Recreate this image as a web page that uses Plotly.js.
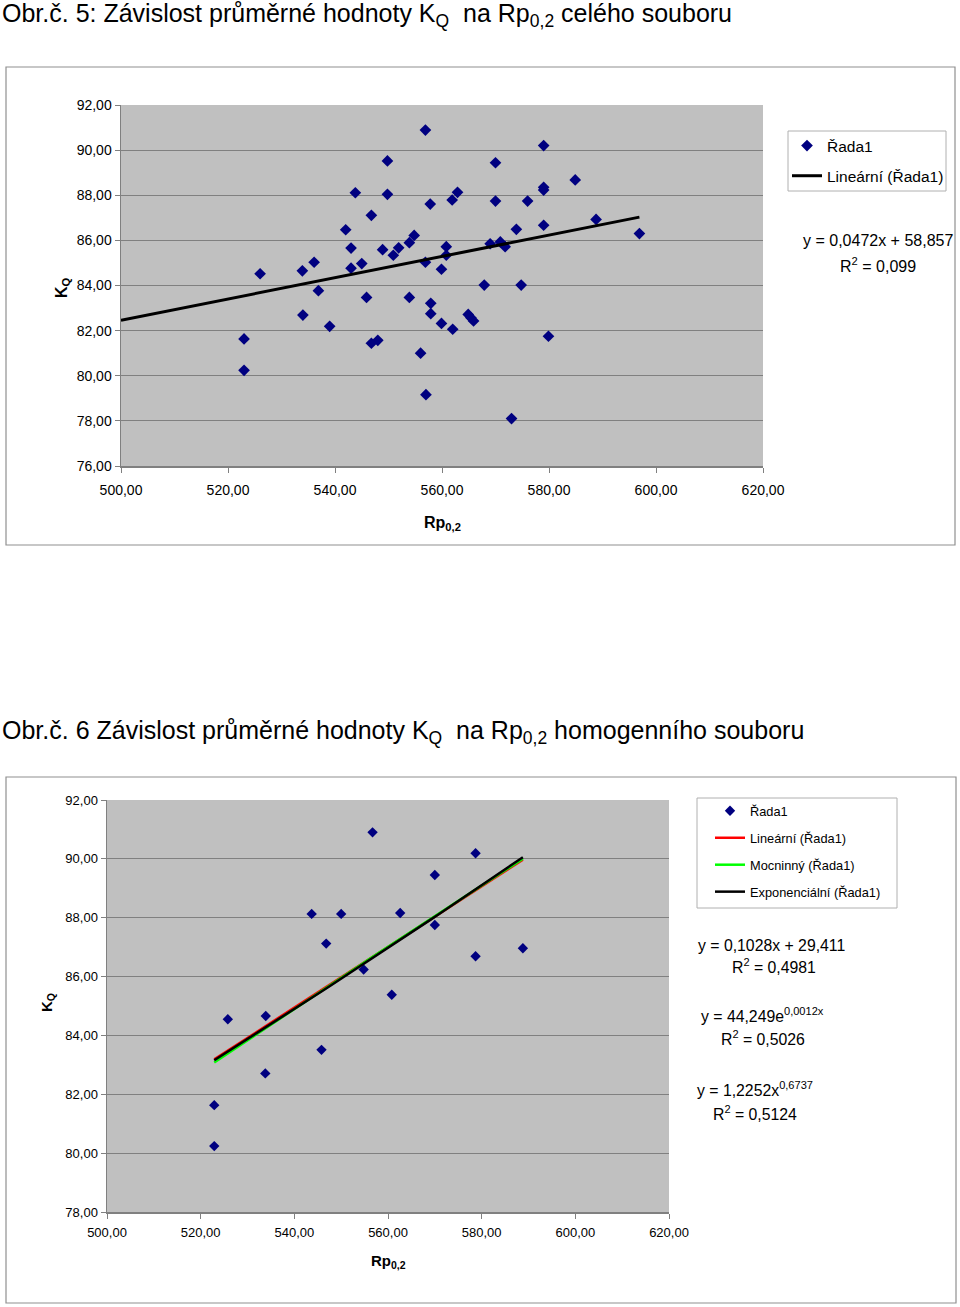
<!DOCTYPE html>
<html><head><meta charset="utf-8">
<script src="https://cdn.plot.ly/plotly-3.0.1.min.js"></script>
<style>body{margin:0;background:#fff}#c{width:960px;height:1307px}</style>
</head><body><div id="c"></div>
<script>
// ---- Data: Obr. 5 (whole set) ----
const rp1 = [523.0,523.0,526.0,533.9,534.0,536.1,536.9,539.0,542.0,543.0,543.0,543.8,545.0,545.9,546.8,546.8,548.0,548.9,549.8,549.8,550.9,551.9,553.9,553.9,554.8,556.0,556.9,556.9,557.0,557.8,557.9,557.9,559.9,559.9,560.8,560.8,561.9,562.0,562.9,564.9,565.4,565.9,567.9,569.0,570.0,570.0,570.9,571.8,573.0,573.9,574.8,576.0,579.0,579.0,579.0,579.0,579.9,584.9,588.8,596.9];
const kq1 = [81.63,80.24,84.52,84.65,82.69,85.03,83.77,82.19,86.47,85.66,84.77,88.11,84.97,83.47,87.11,81.44,81.57,85.59,89.52,88.04,85.34,85.67,85.90,83.47,86.22,81.00,90.89,85.03,79.16,87.61,83.21,82.75,84.72,82.32,85.72,85.34,87.79,82.06,88.13,82.72,82.57,82.43,84.02,85.85,89.44,87.74,85.93,85.72,78.10,86.49,84.02,87.74,90.20,88.35,88.23,86.67,81.75,88.68,86.93,86.30];
const lin1 = [0.0472, 58.857];   // slope, intercept (as printed on the chart)
const trend1Start = 500;
const eq1Text = ["y = 0,0472x + 58,857", "R<sup>2</sup> = 0,099"];

// ---- Data: Obr. 6 (homogeneous set) ----
const rp2 = [522.9,522.9,525.8,533.9,533.8,543.7,545.8,546.8,550.0,554.8,556.7,560.8,562.6,570.0,570.0,578.7,578.7,588.8];
const kq2 = [81.63,80.24,84.55,84.66,82.71,88.13,83.51,87.12,88.13,86.24,90.90,85.38,88.16,89.45,87.75,90.19,86.69,86.96];
const eq2Text = ["y = 0,1028x + 29,411", "R<sup>2</sup> = 0,4981",
                 "y = 44,249e<sup>0,0012x</sup>", "R<sup>2</sup> = 0,5026",
                 "y = 1,2252x<sup>0,6737</sup>", "R<sup>2</sup> = 0,5124"];

const xTicks = [500,520,540,560,580,600,620];

// ---- helpers ----
const W = 960, H = 1307;
const px = v => v / W;
const py = v => 1 - v / H;
function range(a, b, n) { const r = []; for (let i = 0; i <= n; i++) r.push(a + (b - a) * i / n); return r; }
function lsq(xs, ys) {
  const n = xs.length; let sx = 0, sy = 0, sxx = 0, sxy = 0;
  for (let i = 0; i < n; i++) { sx += xs[i]; sy += ys[i]; sxx += xs[i] * xs[i]; sxy += xs[i] * ys[i]; }
  const b = (n * sxy - sx * sy) / (n * sxx - sx * sx); return [b, (sy - b * sx) / n];
}

// trend lines: chart 1 from the printed equation, chart 2 fitted to the data (as Excel does)
const t1x = [trend1Start, Math.max(...rp1)];
const t1y = t1x.map(x => lin1[0] * x + lin1[1]);
const t2x = range(Math.min(...rp2), Math.max(...rp2), 40);
const fLin = lsq(rp2, kq2);
const fExp = lsq(rp2, kq2.map(Math.log));
const fPow = lsq(rp2.map(Math.log), kq2.map(Math.log));
const t2lin = t2x.map(x => fLin[0] * x + fLin[1]);
const t2pow = t2x.map(x => Math.exp(fPow[1]) * Math.pow(x, fPow[0]));
const t2exp = t2x.map(x => Math.exp(fExp[1]) * Math.exp(fExp[0] * x));

const F = "Liberation Sans, Arial, sans-serif";
const navy = "#000080";

const traces = [
  {x: rp1, y: kq1, type: "scatter", mode: "markers", name: "Řada1", xaxis: "x", yaxis: "y",
   marker: {symbol: "diamond", size: 9, color: navy}, legend: "legend", legendgroup: "a1"},
  {x: t1x, y: t1y, type: "scatter", mode: "lines", name: "Lineární (Řada1)", xaxis: "x", yaxis: "y",
   line: {color: "#000", width: 3}, legend: "legend", legendgroup: "a2"},
  {x: rp2, y: kq2, type: "scatter", mode: "markers", name: "Řada1", xaxis: "x2", yaxis: "y2",
   marker: {symbol: "diamond", size: 8, color: navy}, legend: "legend2", legendgroup: "b1"},
  {x: t2x, y: t2lin, type: "scatter", mode: "lines", name: "Lineární (Řada1)", xaxis: "x2", yaxis: "y2",
   line: {color: "#ff0000", width: 2.5}, legend: "legend2", legendgroup: "b2"},
  {x: t2x, y: t2pow, type: "scatter", mode: "lines", name: "Mocninný (Řada1)", xaxis: "x2", yaxis: "y2",
   line: {color: "#00ff00", width: 2.5}, legend: "legend2", legendgroup: "b3"},
  {x: t2x, y: t2exp, type: "scatter", mode: "lines", name: "Exponenciální (Řada1)", xaxis: "x2", yaxis: "y2",
   line: {color: "#000000", width: 2.5}, legend: "legend2", legendgroup: "b4"}
];

const axisCommon = {
  showline: true, linecolor: "#808080", linewidth: 1.5, ticks: "outside", ticklen: 5, tickcolor: "#808080",
  showgrid: false, zeroline: false, tickformat: ".2f", fixedrange: true
};

function ann(text, x, y, size, extra) {
  return Object.assign({text: text, x: px(x), y: py(y), xref: "paper", yref: "paper", showarrow: false,
    xanchor: "center", yanchor: "middle",
    font: {size: size, family: F, color: "#000"}}, extra || {});
}

const layout = {
  width: W, height: H, margin: {l: 0, r: 0, t: 0, b: 0},
  paper_bgcolor: "#fff", plot_bgcolor: "#c0c0c0",
  separators: ", ",
  font: {family: F, color: "#000"},
  xaxis: Object.assign({}, axisCommon, {domain: [px(121), px(763)], range: [500, 620], tickvals: xTicks,
    anchor: "y", tickfont: {size: 14}, ticklabelstandoff: 6}),
  yaxis: Object.assign({}, axisCommon, {domain: [py(466), py(105)], range: [76, 92], dtick: 2, tick0: 76,
    anchor: "x", tickfont: {size: 14}, showgrid: true, gridcolor: "#808080", gridwidth: 1}),
  xaxis2: Object.assign({}, axisCommon, {domain: [px(107), px(669)], range: [500, 620], tickvals: xTicks,
    anchor: "y2", tickfont: {size: 13}, ticklabelstandoff: 3}),
  yaxis2: Object.assign({}, axisCommon, {domain: [py(1212), py(800)], range: [78, 92], dtick: 2, tick0: 78,
    anchor: "x2", tickfont: {size: 13}, showgrid: true, gridcolor: "#808080", gridwidth: 1}),
  legend: {x: px(787), y: py(129), xanchor: "left", yanchor: "top", bgcolor: "rgba(0,0,0,0)", borderwidth: 0,
    font: {size: 15.5, family: F}, traceorder: "grouped", tracegroupgap: 7, itemwidth: 30},
  legend2: {x: px(710), y: py(796), xanchor: "left", yanchor: "top", bgcolor: "rgba(0,0,0,0)", borderwidth: 0,
    font: {size: 12.8, family: F}, traceorder: "grouped", tracegroupgap: 7.3, itemwidth: 30},
  shapes: [
    {type: "rect", xref: "paper", yref: "paper", x0: px(6), x1: px(955), y0: py(545), y1: py(67),
     line: {color: "#909090", width: 1.2}},
    {type: "rect", xref: "paper", yref: "paper", x0: px(6), x1: px(956), y0: py(1303), y1: py(777),
     line: {color: "#909090", width: 1.2}},
    {type: "rect", xref: "paper", yref: "paper", x0: px(788), x1: px(946), y0: py(191), y1: py(131),
     fillcolor: "#fff", line: {color: "#b0b0b0", width: 1}, layer: "below"},
    {type: "rect", xref: "paper", yref: "paper", x0: px(697), x1: px(897), y0: py(908), y1: py(798),
     fillcolor: "#fff", line: {color: "#b0b0b0", width: 1}, layer: "below"}
  ],
  annotations: [
    ann("Obr.č. 5: Závislost průměrné hodnoty K<sub>Q</sub>\u00a0 na Rp<sub>0,2</sub> celého souboru", 0, 15, 25, {xanchor: "left"}),
    ann("Obr.č. 6 Závislost průměrné hodnoty K<sub>Q</sub>\u00a0 na Rp<sub>0,2</sub> homogenního souboru", 0, 732, 25, {xanchor: "left"}),
    ann("<b>K<sub>Q</sub></b>", 63, 288, 16, {textangle: -90}),
    ann("<b>Rp<sub>0,2</sub></b>", 442, 524, 16),
    ann("<b>K<sub>Q</sub></b>", 47, 1003, 15, {textangle: -90}),
    ann("<b>Rp<sub>0,2</sub></b>", 388, 1261, 15),
    ann(eq1Text[0], 878, 240, 16),
    ann(eq1Text[1], 878, 265, 16),
    ann(eq2Text[0], 696, 945, 15.8, {xanchor: "left"}),
    ann(eq2Text[1], 730, 966, 15.8, {xanchor: "left"}),
    ann(eq2Text[2], 699, 1015, 15.8, {xanchor: "left"}),
    ann(eq2Text[3], 719, 1038, 15.8, {xanchor: "left"}),
    ann(eq2Text[4], 695, 1089, 15.8, {xanchor: "left"}),
    ann(eq2Text[5], 711, 1113, 15.8, {xanchor: "left"})
  ]
};

Plotly.newPlot("c", traces, layout, {displayModeBar: false, staticPlot: true});
</script></body></html>
